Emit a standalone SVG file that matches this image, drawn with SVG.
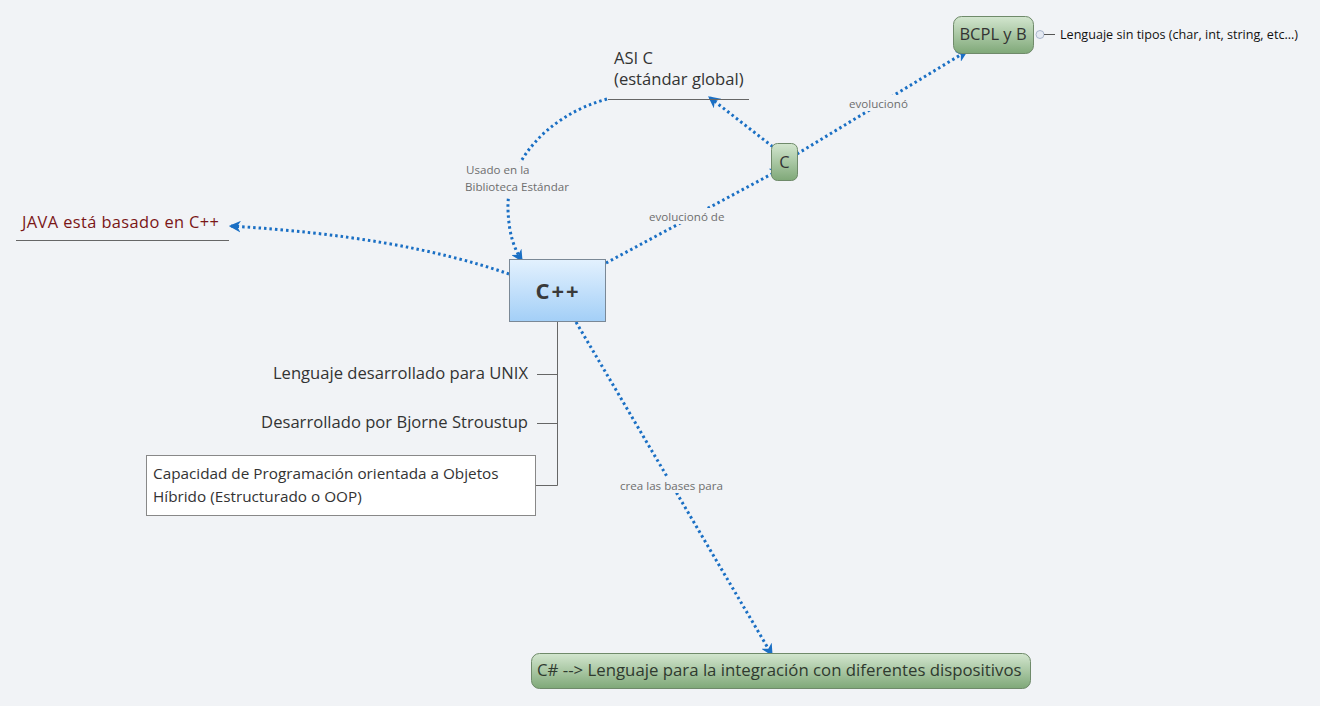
<svg xmlns="http://www.w3.org/2000/svg" width="1320" height="706" viewBox="0 0 1320 706">
<defs>
<linearGradient id="gBlue" x1="0" y1="0" x2="0" y2="1"><stop offset="0" stop-color="#e3f1fe"/><stop offset="1" stop-color="#a3cff7"/></linearGradient>
<linearGradient id="gGreen" x1="0" y1="0" x2="0" y2="1"><stop offset="0" stop-color="#d3e6cf"/><stop offset="1" stop-color="#7fa878"/></linearGradient>
<marker id="arr" viewBox="0 0 10 10" refX="9" refY="5" markerWidth="12" markerHeight="12" markerUnits="userSpaceOnUse" orient="auto">
<path d="M0,0 L10,5 L0,10 L3,5 z" fill="#1a6fc4"/>
</marker>
<style>
text{font-family:"Open Sans","Noto Sans","DejaVu Sans",sans-serif;}
.t16{font-size:16.6px;fill:#333;}
.tb{font-size:15.3px;fill:#333;}
.lbl{font-size:11.6px;fill:#6e6e6e;}
.con{fill:none;stroke:#1a6fc4;stroke-width:3;stroke-dasharray:2.5 3;marker-end:url(#arr);}
.thin{stroke:#666;stroke-width:1;fill:none;}
.lblbg{fill:#f1f3f6;}
</style>
</defs>
<rect x="0" y="0" width="1320" height="706" fill="#f1f3f6"/>

<g id="connectors">
<path class="con" d="M509,274 Q400,236 230,226"/>
<path class="con" d="M606,263 L781,169"/>
<path class="con" d="M777,150 L709,97"/>
<path class="con" d="M797,154 L967,51"/>
<path class="con" d="M607,99 C545,116 506,165 508,210 C509,235 514,248 522,261"/>
<path class="con" d="M576,322 L772,655"/>
<rect class="lblbg" x="646" y="208" width="84" height="16"/>
<text class="lbl" x="649" y="221">evolucionó de</text>
<rect class="lblbg" x="846" y="95" width="68" height="16"/>
<text class="lbl" x="849" y="108">evolucionó</text>
<rect class="lblbg" x="462" y="162" width="114" height="34"/>
<text class="lbl" x="466" y="174">Usado en la</text>
<text class="lbl" x="465" y="191">Biblioteca Estándar</text>
<rect class="lblbg" x="617" y="477" width="110" height="16"/>
<text class="lbl" x="620" y="490">crea las bases para</text>
</g>

<g id="cpp">
<rect x="509.5" y="259.5" width="96" height="62" fill="url(#gBlue)" stroke="#7a8896"/>
<text x="558" y="299" text-anchor="middle" font-size="22" font-weight="bold" letter-spacing="2" fill="#3a3a3a">C++</text>
</g>

<g id="cpp-children">
<path class="thin" d="M557.5,322 V485.5 M537,374.5 H557.5 M537,423.5 H557.5 M535,485.5 H557.5"/>
</g>
<g id="unix">
<text class="t16" x="528" y="379" text-anchor="end">Lenguaje desarrollado para UNIX</text>
</g>
<g id="bjorne">
<text class="t16" x="528" y="428" text-anchor="end">Desarrollado por Bjorne Stroustup</text>
</g>
<g id="oop">
<rect x="146.5" y="455.5" width="389" height="60" fill="#fff" stroke="#888"/>
<text class="tb" x="153" y="479">Capacidad de Programación orientada a Objetos</text>
<text class="tb" x="153" y="502">Híbrido (Estructurado o OOP)</text>
</g>

<g id="java">
<text x="22" y="228" font-size="16.4" letter-spacing="0.4" fill="#7a1616">JAVA está basado en C++</text>
<line class="thin" x1="16" y1="240.5" x2="229" y2="240.5"/>
</g>

<g id="asic">
<text class="t16" x="614" y="64">ASI C</text>
<text class="t16" x="614" y="85">(estándar global)</text>
<line class="thin" x1="608" y1="99.5" x2="749" y2="99.5"/>
</g>

<g id="c">
<rect x="771.5" y="143.5" width="26" height="37" rx="6" fill="url(#gGreen)" stroke="#6f8a6a"/>
<text x="784.5" y="168" text-anchor="middle" font-size="16.5" fill="#333">C</text>
</g>

<g id="bcpl">
<rect x="953.5" y="16.5" width="80" height="37" rx="8" fill="url(#gGreen)" stroke="#6f8a6a"/>
<text x="993" y="40" text-anchor="middle" font-size="16.5" fill="#333">BCPL y B</text>
<circle cx="1040" cy="34.5" r="4" fill="#e4e9f2" stroke="#a9b6cc"/>
<line x1="1044" y1="34.5" x2="1055" y2="34.5" stroke="#555"/>
</g>
<g id="bcpl-note">
<text x="1060" y="39" font-size="12.6" fill="#111">Lenguaje sin tipos (char, int, string, etc...)</text>
</g>

<g id="csharp">
<rect x="531.5" y="653.5" width="499" height="35" rx="8" fill="url(#gGreen)" stroke="#6f8a6a"/>
<text x="537" y="676" font-size="16.8" fill="#2f3a2f">C# --&gt; Lenguaje para la integración con diferentes dispositivos</text>
</g>
</svg>
